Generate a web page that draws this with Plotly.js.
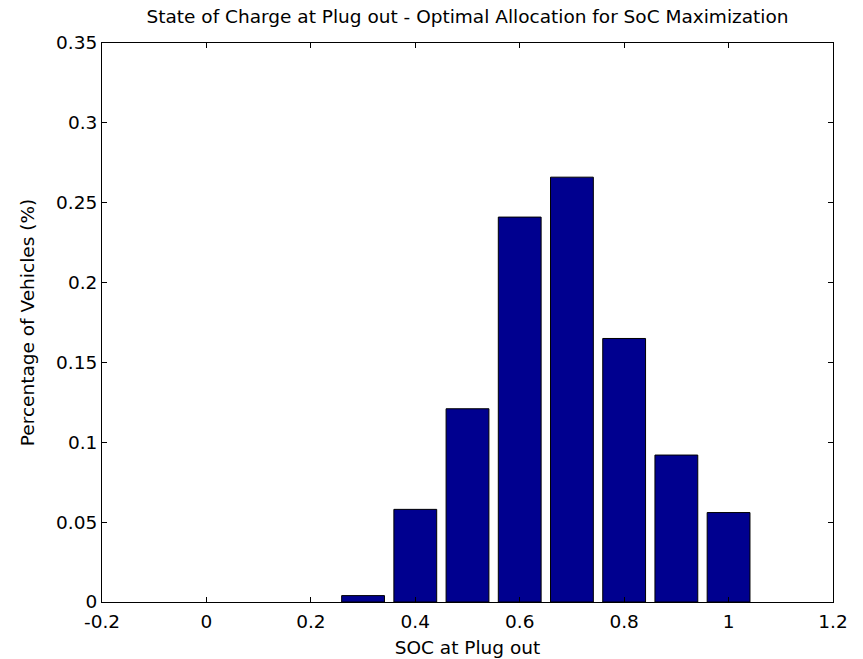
<!DOCTYPE html>
<html>
<head>
<meta charset="utf-8">
<script src="https://cdn.plot.ly/plotly-3.0.1.min.js"></script>
<style>html,body{margin:0;padding:0;background:#fff;}#chart{width:863px;height:659px;}</style>
</head>
<body>
<div id="chart"></div>
<script>
// Bin centers (SOC at plug out) and share of vehicles
const socBins = [0.3, 0.4, 0.5, 0.6, 0.7, 0.8, 0.9, 1.0];
const vehicleShare = [0.004, 0.058, 0.121, 0.241, 0.266, 0.165, 0.092, 0.056];
const xTickVals = [-0.2, 0, 0.2, 0.4, 0.6, 0.8, 1, 1.2];
const xTickText = ['-0.2', '0', '0.2', '0.4', '0.6', '0.8', '1', '1.2'];
const yTickVals = [0, 0.05, 0.1, 0.15, 0.2, 0.25, 0.3, 0.35];
const yTickText = ['0', '0.05', '0.1', '0.15', '0.2', '0.25', '0.3', '0.35'];

const fam = 'DejaVu Sans, Liberation Sans, Arial, sans-serif';
const fs = 18.5;
const font = {family: fam, size: fs, color: '#000'};

const trace = {
  type: 'bar',
  x: socBins,
  y: vehicleShare,
  width: 0.082,
  marker: {color: '#00008f', line: {color: '#000', width: 1}},
  hoverinfo: 'x+y'
};

const layout = {
  width: 863, height: 659,
  margin: {l: 102, r: 30, t: 43, b: 57},
  paper_bgcolor: '#fff', plot_bgcolor: '#fff',
  font: font,
  showlegend: false,
  title: {text: 'State of Charge at Plug out - Optimal Allocation for SoC Maximization',
          font: font, xref: 'paper', x: 0.5, xanchor: 'center',
          yref: 'container', y: 0.975, yanchor: 'middle'},
  xaxis: {
    range: [-0.2, 1.2], tickvals: xTickVals, ticktext: xTickText,
    ticks: 'inside', ticklen: 5, tickcolor: '#000', tickwidth: 1,
    showline: true, linecolor: '#000', linewidth: 1, mirror: 'ticks',
    showgrid: false, zeroline: false,
    tickfont: font, ticklabelstandoff: 3,
    title: {text: 'SOC at Plug out', font: font, standoff: 9}
  },
  yaxis: {
    range: [0, 0.35], tickvals: yTickVals, ticktext: yTickText,
    ticks: 'inside', ticklen: 5, tickcolor: '#000', tickwidth: 1,
    showline: true, linecolor: '#000', linewidth: 1, mirror: 'ticks',
    showgrid: false, zeroline: false,
    tickfont: font,
    title: {text: 'Percentage of Vehicles (%)', font: font, standoff: 16}
  }
};

Plotly.newPlot('chart', [trace], layout, {displayModeBar: false, staticPlot: true});
</script>
</body>
</html>
